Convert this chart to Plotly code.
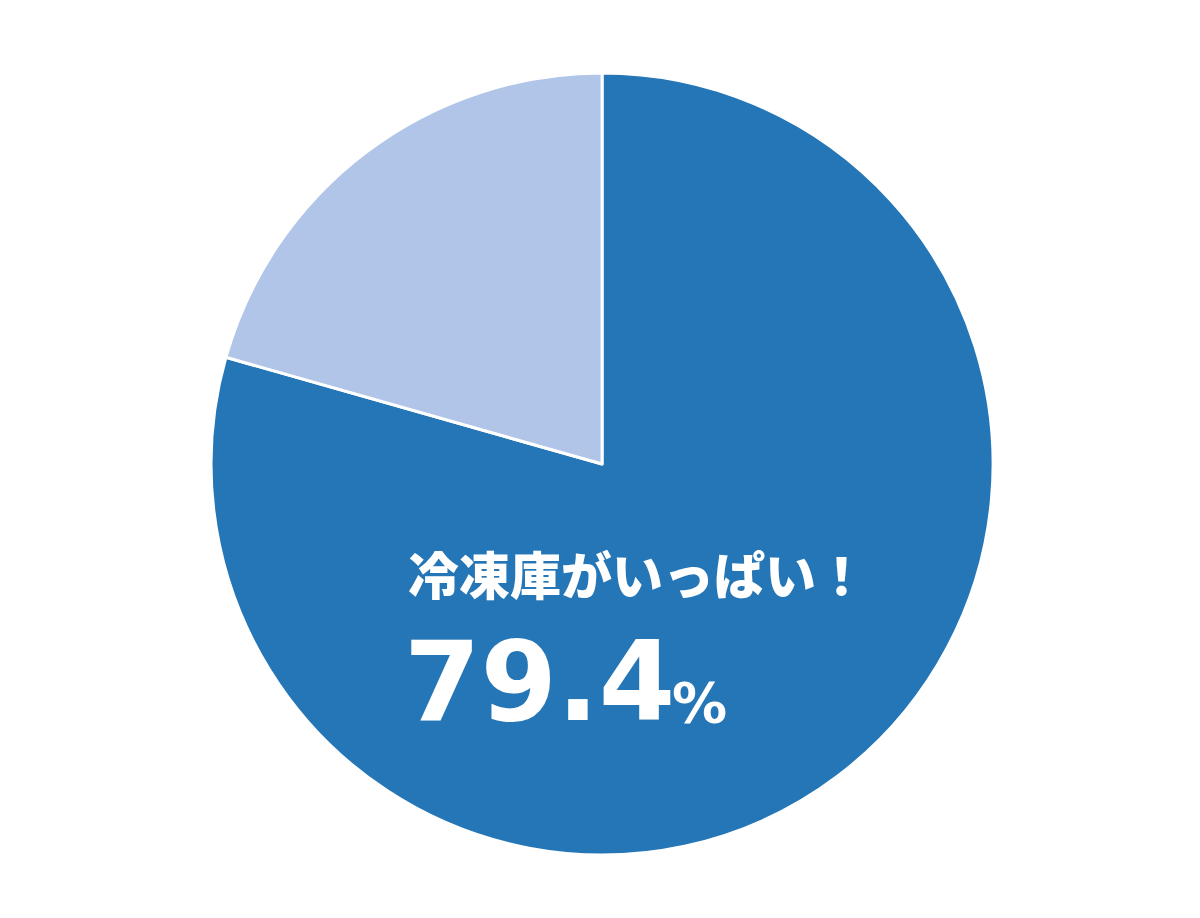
import plotly.graph_objects as go

# answer shares (percent)
labels = ["冷凍庫がいっぱい！", "その他"]
values = [79.4, 20.6]
colors = ["#2476b6", "#b0c5e8"]

fig = go.Figure(
    go.Pie(
        labels=labels,
        values=values,
        sort=False,
        direction="clockwise",
        rotation=0,
        marker=dict(colors=colors, line=dict(color="white", width=3)),
        textinfo="none",
        hoverinfo="label+percent",
        domain=dict(x=[0.1692, 0.8209], y=[0.0773, 0.9292]),
        showlegend=False,
    )
)

fig.add_annotation(
    x=398 / 1200, y=1 - 565 / 918, xref="paper", yref="paper",
    xanchor="left", yanchor="middle", showarrow=False,
    text=labels[0],
    font=dict(family="Noto Sans CJK JP", size=51, color="white", weight=900),
)
fig.add_annotation(
    x=394 / 1200, y=1 - 674 / 918, xref="paper", yref="paper",
    xanchor="left", yanchor="middle", showarrow=False,
    text="%.1f" % values[0],
    font=dict(family="DejaVu Sans", size=110, color="white", weight="bold"),
)
fig.add_annotation(
    x=662 / 1200, y=1 - 695 / 918, xref="paper", yref="paper",
    xanchor="left", yanchor="middle", showarrow=False,
    text="%",
    font=dict(family="DejaVu Sans", size=55, color="white", weight="bold"),
)

fig.update_layout(
    width=1200, height=918,
    margin=dict(l=0, r=0, t=0, b=0),
    paper_bgcolor="white",
    plot_bgcolor="white",
)

fig.write_html("out.html")
